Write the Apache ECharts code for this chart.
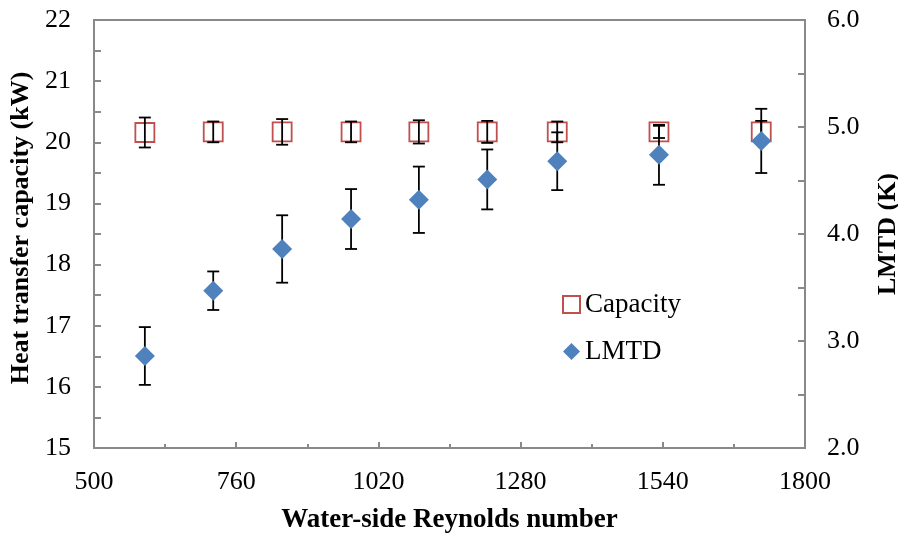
<!DOCTYPE html>
<html><head><meta charset="utf-8">
<script src="https://cdn.jsdelivr.net/npm/echarts@6/dist/echarts.min.js"></script>
<style>html,body{margin:0;padding:0;background:#fff}#c{width:898px;height:534px}</style>
</head><body><div id="c"></div>
<script>
const reynolds = [593, 718, 844, 970, 1094, 1219, 1347, 1533, 1720];
const capacity = [20.16, 20.17, 20.17, 20.17, 20.17, 20.17, 20.17, 20.17, 20.17];
const capacityErr = [0.245, 0.17, 0.21, 0.17, 0.19, 0.18, 0.17, 0.10, 0.18];
const lmtd = [2.86, 3.47, 3.86, 4.14, 4.32, 4.51, 4.68, 4.74, 4.87];
const lmtdErr = [0.27, 0.18, 0.315, 0.28, 0.31, 0.28, 0.27, 0.28, 0.30];
const seriesNames = ['Capacity', 'LMTD'];

const FONT = 'Liberation Serif';
const AXIS = '#898989';

function errRender(params, api) {
  const x = api.value(0), lo = api.value(1), hi = api.value(2);
  const a = api.coord([x, lo]), b = api.coord([x, hi]);
  const w = 6;
  const style = { stroke: '#000', lineWidth: 1.8 };
  return { type: 'group', children: [
    { type: 'line', shape: { x1: a[0], y1: a[1], x2: b[0], y2: b[1] }, style },
    { type: 'line', shape: { x1: a[0] - w, y1: a[1], x2: a[0] + w, y2: a[1] }, style },
    { type: 'line', shape: { x1: b[0] - w, y1: b[1], x2: b[0] + w, y2: b[1] }, style }
  ]};
}

const capPts = reynolds.map((r, i) => [r, capacity[i]]);
const lmtdPts = reynolds.map((r, i) => [r, lmtd[i]]);
const capErrData = reynolds.map((r, i) => [r, capacity[i] - capacityErr[i], capacity[i] + capacityErr[i]]);
const lmtdErrData = reynolds.map((r, i) => [r, lmtd[i] - lmtdErr[i], lmtd[i] + lmtdErr[i]]);

const axisCommon = {
  axisLine: { show: true, lineStyle: { color: AXIS, width: 2 } },
  splitLine: { show: false },
  axisLabel: { fontFamily: FONT, fontSize: 26, color: '#000' },
  nameTextStyle: { fontFamily: FONT, fontSize: 26, fontWeight: 'bold', color: '#000' }
};

const chart = echarts.init(document.getElementById('c'));
chart.setOption({
  animation: false,
  backgroundColor: '#fff',
  grid: { left: 94, right: 93, top: 20, bottom: 86, show: true, borderColor: AXIS, borderWidth: 2,
          containLabel: false, outerBoundsMode: 'none' },
  legend: {
    data: seriesNames, orient: 'vertical', left: 557, top: 286, itemWidth: 17, itemHeight: 17, itemGap: 20,
    textStyle: { fontFamily: FONT, fontSize: 27, color: '#000' }
  },
  xAxis: Object.assign({}, axisCommon, {
    type: 'value', min: 500, max: 1800, interval: 260,
    name: 'Water-side Reynolds number', nameLocation: 'middle', nameGap: 59,
    nameTextStyle: { fontFamily: FONT, fontSize: 27, fontWeight: 'bold', color: '#000' },
    axisTick: { show: true, inside: true, length: 6, lineStyle: { color: AXIS, width: 2 } },
    minorTick: { show: true, splitNumber: 2, length: 4, lineStyle: { color: AXIS, width: 2 } },
    axisLabel: Object.assign({}, axisCommon.axisLabel, { margin: 21, formatter: v => String(v) })
  }),
  yAxis: [
    Object.assign({}, axisCommon, {
      type: 'value', min: 15, max: 22, interval: 1, position: 'left',
      name: 'Heat transfer capacity (kW)', nameLocation: 'middle', nameGap: 56,
      nameTextStyle: { fontFamily: FONT, fontSize: 26, fontWeight: 'bold', color: '#000', padding: [0, 0, 0, 12] },
      axisTick: { show: true, inside: true, length: 7, lineStyle: { color: AXIS, width: 2 } },
      minorTick: { show: true, splitNumber: 2, length: 7, lineStyle: { color: AXIS, width: 2 } },
      axisLabel: Object.assign({}, axisCommon.axisLabel, { margin: 23 })
    }),
    Object.assign({}, axisCommon, {
      type: 'value', min: 2, max: 6, interval: 1, position: 'right',
      name: 'LMTD (K)', nameLocation: 'middle', nameGap: 70,
      axisTick: { show: true, inside: true, length: 7, lineStyle: { color: AXIS, width: 2 } },
      minorTick: { show: true, splitNumber: 2, length: 7, lineStyle: { color: AXIS, width: 2 } },
      axisLabel: Object.assign({}, axisCommon.axisLabel, { margin: 22, formatter: v => v.toFixed(1) })
    })
  ],
  series: [
    { name: seriesNames[0], type: 'scatter', yAxisIndex: 0, data: capPts, z: 2,
      symbol: 'rect', symbolSize: 19,
      itemStyle: { color: 'rgba(255,255,255,0)', borderColor: '#c0504d', borderWidth: 1.8, opacity: 1 } },
    { type: 'custom', yAxisIndex: 0, data: capErrData, renderItem: errRender, z: 3,
      encode: { x: 0, y: [1, 2] }, silent: true },
    { type: 'custom', yAxisIndex: 1, data: lmtdErrData, renderItem: errRender, z: 4,
      encode: { x: 0, y: [1, 2] }, silent: true },
    { name: seriesNames[1], type: 'scatter', yAxisIndex: 1, data: lmtdPts, z: 5,
      symbol: 'diamond', symbolSize: 20,
      itemStyle: { color: '#4f81bd', opacity: 1 } }
  ]
});
</script></body></html>
